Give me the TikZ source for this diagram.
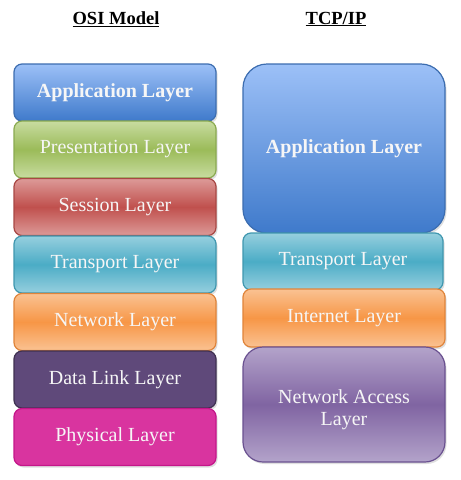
\documentclass[tikz,border=0pt]{standalone}
\usepackage{fontspec}
\setmainfont{Liberation Serif}
\usetikzlibrary{shadows}
\definecolor{appT}{HTML}{9CC0F7}
\definecolor{appB}{HTML}{3F7ACB}
\definecolor{appD}{HTML}{3C6DB0}
\definecolor{grE}{HTML}{C8DCA0}
\definecolor{grM}{HTML}{9BBB59}
\definecolor{grD}{HTML}{8AAA50}
\definecolor{rdE}{HTML}{DC9A98}
\definecolor{rdM}{HTML}{C0504D}
\definecolor{rdD}{HTML}{A84744}
\definecolor{tlE}{HTML}{96CFDE}
\definecolor{tlM}{HTML}{4BACC6}
\definecolor{tlD}{HTML}{3F97AF}
\definecolor{orE}{HTML}{FAC292}
\definecolor{orM}{HTML}{F79646}
\definecolor{orD}{HTML}{E0843A}
\definecolor{dl}{HTML}{5F497A}
\definecolor{dlD}{HTML}{3F3151}
\definecolor{ph}{HTML}{D9349F}
\definecolor{phD}{HTML}{C4168A}
\definecolor{naE}{HTML}{B3A3CA}
\definecolor{naM}{HTML}{8064A2}
\definecolor{naD}{HTML}{6A5190}
\definecolor{txt}{HTML}{F6F6F6}
\tikzset{
  layer/.style={rounded corners=8pt, minimum width=202pt, text=txt, font=\fontsize{20}{23}\selectfont, line width=1.2pt, align=center, inner sep=0pt,
    drop shadow={opacity=0.25, shadow xshift=1.5pt, shadow yshift=-2pt}},
  three/.style n args={3}{shading=axis, top color=#1, bottom color=#1, middle color=#2, draw=#3},
  boldtext/.style={font=\fontsize{20}{23}\selectfont\bfseries},
  title/.style={font=\fontsize{18.5}{21}\selectfont\bfseries}
}
\begin{document}
\begin{tikzpicture}[x=1pt,y=-1pt]
\useasboundingbox[fill=white] (0,0) rectangle (461,480);
\node[title] (osi) at (116,19) {\underline{OSI Model}};
\node[title] (tcp) at (336,19) {\underline{TCP/IP}};
% OSI
\node[layer, minimum height=57pt, shading=axis, top color=appT, bottom color=appB, draw=appD, boldtext] (oapp) at (115,92.5) {Application Layer};
\node[layer, minimum height=57pt, three={grE}{grM}{grD}] (opre) at (115,149.5) {Presentation Layer};
\node[layer, minimum height=57pt, three={rdE}{rdM}{rdD}] (oses) at (115,207) {Session Layer};
\node[layer, minimum height=57pt, three={tlE}{tlM}{tlD}] (otra) at (115,264.5) {Transport Layer};
\node[layer, minimum height=57pt, three={orE}{orM}{orD}] (onet) at (115,322) {Network Layer};
\node[layer, minimum height=57pt, fill=dl, draw=dlD] (odl) at (115,379.5) {Data Link Layer};
\node[layer, minimum height=57pt, fill=ph, draw=phD] (oph) at (115,437) {Physical Layer};
% TCP/IP
\node[layer, rounded corners=24pt, minimum height=169pt, shading=axis, top color=appT, bottom color=appB, draw=appD, boldtext] (tapp) at (344,148.5) {Application Layer};
\node[layer, minimum height=57pt, minimum width=200pt, three={tlE}{tlM}{tlD}] (ttra) at (343,261.5) {Transport Layer};
\node[layer, minimum height=58pt, three={orE}{orM}{orD}] (tint) at (344,318) {Internet Layer};
\node[layer, rounded corners=20pt, minimum height=115pt, three={naE}{naM}{naD}, font=\fontsize{20}{21.5}\selectfont] (tna) at (344,404.5) {\rule{0pt}{24pt}Network Access\\Layer};
\end{tikzpicture}
\end{document}
